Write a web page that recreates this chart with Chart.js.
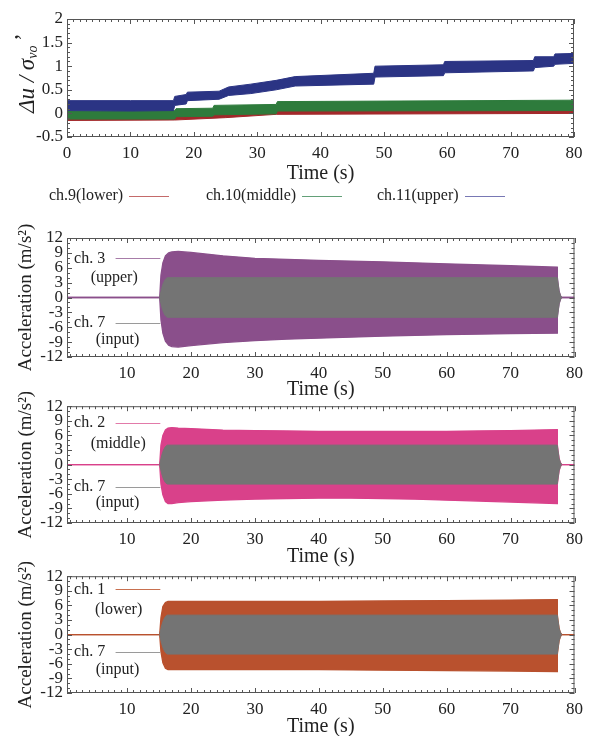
<!DOCTYPE html>
<html>
<head>
<meta charset="utf-8">
<script src="https://cdn.jsdelivr.net/npm/chart.js@4.4.1/dist/chart.umd.min.js"></script>
<style>
  body { margin: 0; background: #fff; width: 589px; height: 736px; position: relative; overflow: hidden;
         font-family: 'Liberation Serif', serif; color: #222; }
  canvas { position: absolute; left: 0; }
  #legend { position: absolute; top: 185px; left: 0; width: 589px; height: 22px; font-size: 16px; }
  .item { position: absolute; top: 1px; white-space: nowrap; }
  .item i { display: inline-block; width: 40px; height: 1px; vertical-align: middle; margin-left: 6px; }
</style>
</head>
<body>
<canvas id="c0" width="589" height="186" style="top:0"></canvas>
<div id="legend"></div>
<canvas id="c1" width="589" height="194" style="top:208px"></canvas>
<canvas id="c2" width="589" height="177" style="top:392px"></canvas>
<canvas id="c3" width="589" height="177" style="top:562px"></canvas>
<script>
const blueT  = [0, 10, 16.8, 17, 18.8, 19, 24, 25.5, 29, 33, 36, 48.4, 48.6, 59.4, 59.6, 73.6, 73.8, 76.8, 77, 80];
const blueLo = [0.06, 0.05, 0.06, 0.17, 0.2, 0.27, 0.3, 0.38, 0.42, 0.5, 0.58, 0.62, 0.77, 0.8, 0.86, 0.9, 0.97, 1.0, 1.04, 1.06];
const blueHi = [0.27, 0.27, 0.27, 0.36, 0.4, 0.45, 0.47, 0.56, 0.62, 0.7, 0.78, 0.85, 1.0, 1.03, 1.1, 1.12, 1.2, 1.2, 1.26, 1.27];

const greenT  = [0, 17, 17.2, 23, 23.2, 33, 33.2, 80];
const greenLo = [-0.12, -0.12, -0.07, -0.06, -0.03, -0.01, 0.05, 0.06];
const greenHi = [0.05, 0.06, 0.1, 0.11, 0.17, 0.19, 0.25, 0.28];

const redT  = [0, 17, 25, 33, 80];
const redLo = [-0.15, -0.14, -0.09, -0.02, 0.0];
const redHi = [0.0, 0.02, 0.04, 0.06, 0.08];

const legendNames = ['ch.9(lower)', 'ch.10(middle)', 'ch.11(upper)'];

// ---- acceleration envelopes ----
const ch7T  = [15.1, 15.4, 15.7, 16.0, 16.3, 77.3, 77.32, 77.45, 77.6, 77.8, 78.0];
const ch7Hi = [0, 1.8, 3.0, 3.7, 4.0, 4.0, 4.0, 2.6, 1.2, 0.4, 0];
const ch7Lo = [0, -1.8, -3.0, -3.7, -4.0, -4.0, -4.0, -2.6, -1.2, -0.4, 0];

const ch3T  = [0.6, 15.1, 15.3, 15.6, 16.0, 16.5, 17.0, 18.0, 20, 25, 30, 35, 40, 50, 60, 70, 77.3, 77.32, 77.45, 77.6, 77.8, 78.0, 80];
const ch3Hi = [0, 0, 4.5, 7.0, 8.4, 9.0, 9.2, 9.3, 9.1, 8.4, 7.9, 7.7, 7.5, 7.2, 6.8, 6.4, 6.1, 4.0, 2.6, 1.2, 0.4, 0, 0];
const ch3Lo = [0, 0, -4.5, -7.2, -8.8, -9.6, -9.9, -10.0, -9.7, -9.1, -8.7, -8.4, -8.2, -7.8, -7.5, -7.3, -7.2, -4.0, -2.6, -1.2, -0.4, 0, 0];

const ch2T  = [0.6, 15.1, 15.3, 15.6, 16.0, 16.4, 17, 18, 20, 25, 30, 35, 40, 45, 50, 55, 60, 65, 70, 77.3, 77.32, 77.45, 77.6, 77.8, 78.0, 80];
const ch2Hi = [0, 0, 4.0, 6.0, 7.1, 7.5, 7.6, 7.5, 7.4, 7.1, 7.0, 6.9, 6.8, 6.8, 6.8, 6.8, 6.8, 6.9, 7.0, 7.2, 4.0, 2.6, 1.2, 0.4, 0, 0];
const ch2Lo = [0, 0, -4.0, -6.2, -7.6, -8.0, -8.0, -7.8, -7.6, -7.3, -7.1, -7.0, -6.9, -6.9, -7.0, -7.1, -7.3, -7.5, -7.7, -8.0, -4.0, -2.6, -1.2, -0.4, 0, 0];

const ch1T  = [0.6, 15.1, 15.3, 15.6, 16.0, 16.4, 17, 20, 30, 40, 50, 60, 70, 77.3, 77.32, 77.45, 77.6, 77.8, 78.0, 80];
const ch1Hi = [0, 0, 3.5, 5.8, 6.6, 6.8, 6.8, 6.8, 6.8, 6.8, 6.9, 7.0, 7.1, 7.2, 4.0, 2.6, 1.2, 0.4, 0, 0];
const ch1Lo = [0, 0, -3.5, -5.8, -6.9, -7.2, -7.2, -7.2, -7.2, -7.2, -7.3, -7.4, -7.5, -7.6, -4.0, -2.6, -1.2, -0.4, 0, 0];

const ch3Labels = ['ch. 3', '(upper)', 'ch. 7', '(input)'];
const ch2Labels = ['ch. 2', '(middle)', 'ch. 7', '(input)'];
const ch1Labels = ['ch. 1', '(lower)', 'ch. 7', '(input)'];

// ---- ticks ----
const topXTicks = [0, 10, 20, 30, 40, 50, 60, 70, 80];
const topYTicks = [-0.5, 0, 0.5, 1, 1.5, 2];
const accXTicks = [10, 20, 30, 40, 50, 60, 70, 80];
const accYTicks = [-12, -9, -6, -3, 0, 3, 6, 9, 12];

const SERIF = "'Liberation Serif', 'Times New Roman', serif";
Chart.defaults.font.family = SERIF;
Chart.defaults.color = '#222';

const colors = {
  red: '#a3282a', green: '#2e7b3c', blue: '#2b3484',
  redLeg: '#c46a6a', greenLeg: '#63a078', blueLeg: '#7878b4',
  gray: '#747474', purple: '#8a4f8b', pink: '#d9418a', orange: '#b9512e',
  purpleLine: '#a77ca8', pinkLine: '#e27aa9', orangeLine: '#c8704f', grayLine: '#9a9a9a'
};

const f = size => ({ family: SERIF, size });

function band(t, lo, hi, color, bw) {
  return [
    { data: t.map((x, i) => ({ x, y: hi[i] })), borderColor: color, backgroundColor: color,
      fill: '+1', borderWidth: bw, pointRadius: 0, tension: 0 },
    { data: t.map((x, i) => ({ x, y: lo[i] })), borderColor: color, backgroundColor: color,
      fill: false, borderWidth: bw, pointRadius: 0, tension: 0 }
  ];
}

// box frame with inward minor/major ticks on all four sides
const framePlugin = {
  id: 'frame',
  afterDatasetsDraw(chart, args, o) {
    const { ctx, chartArea: a, scales: { x, y } } = chart;
    ctx.save();
    ctx.strokeStyle = '#555';
    ctx.lineWidth = 1;
    ctx.strokeRect(a.left + 0.5, a.top + 0.5, a.right - a.left - 1, a.bottom - a.top - 1);
    ctx.beginPath();
    const isMajor = (v, m) => Math.abs(v / m - Math.round(v / m)) < 1e-6;
    for (let k = Math.ceil(x.min / o.xStep - 1e-9); k * o.xStep <= x.max + 1e-9; k++) {
      const v = k * o.xStep, px = Math.round(x.getPixelForValue(v)) + 0.5;
      const len = isMajor(v, o.xMajor) ? 5 : 3;
      ctx.moveTo(px, a.bottom); ctx.lineTo(px, a.bottom - len);
      ctx.moveTo(px, a.top); ctx.lineTo(px, a.top + len);
    }
    for (let k = Math.ceil(y.min / o.yStep - 1e-9); k * o.yStep <= y.max + 1e-9; k++) {
      const v = k * o.yStep, py = Math.round(y.getPixelForValue(v)) + 0.5;
      const len = isMajor(v, o.yMajor) ? 5 : 3;
      ctx.moveTo(a.left, py); ctx.lineTo(a.left + len, py);
      ctx.moveTo(a.right, py); ctx.lineTo(a.right - len, py);
    }
    ctx.stroke();
    ctx.restore();
  }
};

// "ch. N / (position)" notes with short key lines
const notesPlugin = {
  id: 'notes',
  afterDatasetsDraw(chart, args, o) {
    if (!o.texts) return;
    const { ctx, scales: { x, y } } = chart;
    ctx.save();
    ctx.font = '16px ' + SERIF;
    ctx.fillStyle = '#222';
    ctx.textBaseline = 'middle';
    o.texts.forEach((txt, i) => {
      ctx.fillText(txt, x.getPixelForValue(o.xs[i]), y.getPixelForValue(o.ys[i]));
    });
    [0, 2].forEach((i, j) => {
      const py = Math.round(y.getPixelForValue(o.ys[i])) + 0.5;
      ctx.strokeStyle = o.lineColors[j];
      ctx.lineWidth = 1.2;
      ctx.beginPath();
      ctx.moveTo(x.getPixelForValue(8.2), py);
      ctx.lineTo(x.getPixelForValue(15.2), py);
      ctx.stroke();
    });
    ctx.restore();
  }
};

// rotated italic Δu / σvo' title of the top panel
const ratioTitle = {
  id: 'ratioTitle',
  afterDraw(chart) {
    const { ctx, chartArea: a } = chart;
    ctx.save();
    ctx.translate(28, (a.top + a.bottom) / 2 - 4);
    ctx.rotate(-Math.PI / 2);
    ctx.fillStyle = '#222';
    ctx.textBaseline = 'middle';
    const big = 'italic 23px ' + SERIF, small = 'italic 14px ' + SERIF;
    ctx.font = big; const w1 = ctx.measureText('\u0394u / \u03c3').width;
    ctx.font = small; const w2 = ctx.measureText('vo').width;
    ctx.font = big; const w3 = ctx.measureText('\u2019').width;
    let px = -(w1 + w2 + w3 + 3) / 2;
    ctx.font = big; ctx.fillText('\u0394u / \u03c3', px, 0); px += w1;
    ctx.font = small; ctx.fillText('vo', px, 5); px += w2 + 3;
    ctx.font = big; ctx.fillText('\u2019', px, -4);
    ctx.restore();
  }
};

function xScale(min, ticks, height, titlePad) {
  return {
    type: 'linear', min, max: 80,
    border: { display: false },
    grid: { display: false, drawTicks: false },
    afterBuildTicks: s => { s.ticks = ticks.map(v => ({ value: v })); },
    afterFit: s => { s.height = height; },
    ticks: { autoSkip: false, maxRotation: 0, padding: 6, font: f(17), callback: v => String(v) },
    title: { display: true, text: 'Time (s)', font: f(20), padding: { top: 0, bottom: titlePad } }
  };
}

function yScale(min, max, ticks, title) {
  return {
    min, max,
    border: { display: false },
    grid: { display: false, drawTicks: false },
    afterBuildTicks: s => { s.ticks = ticks.map(v => ({ value: v })); },
    afterFit: s => { s.width = 67; },
    ticks: { autoSkip: false, padding: 4, font: f(17), callback: v => String(v) },
    title: title
      ? { display: true, text: title, font: f(19), padding: { top: 15, bottom: 0 } }
      : { display: false }
  };
}

// top panel
new Chart(document.getElementById('c0'), {
  type: 'line',
  data: { datasets: [
    ...band(blueT, blueLo, blueHi, colors.blue, 1),
    ...band(greenT, greenLo, greenHi, colors.green, 1),
    ...band(redT, redLo, redHi, colors.red, 1)
  ] },
  options: {
    responsive: false, animation: false,
    layout: { padding: { top: 19, right: 15, left: 0, bottom: 0 } },
    plugins: { legend: { display: false }, tooltip: { enabled: false },
               frame: { xStep: 1, xMajor: 10, yStep: 0.1, yMajor: 0.5 } },
    scales: { x: xScale(0, topXTicks, 49, 0), y: yScale(-0.5, 2, topYTicks, null) }
  },
  plugins: [framePlugin, ratioTitle]
});

// legend row
const legendEl = document.getElementById('legend');
const legLeft = [49, 206, 377];
const legColor = [colors.redLeg, colors.greenLeg, colors.blueLeg];
legendNames.forEach((name, i) => {
  const d = document.createElement('div');
  d.className = 'item';
  d.style.left = legLeft[i] + 'px';
  d.innerHTML = name + '<i style="background:' + legColor[i] + '"></i>';
  legendEl.appendChild(d);
});

function accPanel(id, padTop, xHeight, t, lo, hi, color, lineColor, texts, ys, xs) {
  return new Chart(document.getElementById(id), {
    type: 'line',
    data: { datasets: [
      ...band(ch7T, ch7Lo, ch7Hi, colors.gray, 1),
      ...band(t, lo, hi, color, 1.3)
    ] },
    options: {
      responsive: false, animation: false,
      layout: { padding: { top: padTop, right: 13, left: 0, bottom: 0 } },
      plugins: { legend: { display: false }, tooltip: { enabled: false },
                 frame: { xStep: 1, xMajor: 10, yStep: 1, yMajor: 3 },
                 notes: { texts, ys, xs, lineColors: [lineColor, colors.grayLine] } },
      scales: { x: xScale(0.6, accXTicks, xHeight, 0), y: yScale(-12, 12, accYTicks, 'Acceleration (m/s\u00b2)') }
    },
    plugins: [framePlugin, notesPlugin]
  });
}

accPanel('c1', 30, 45, ch3T, ch3Lo, ch3Hi, colors.purple, colors.purpleLine,
         ch3Labels, [7.9, 3.9, -5.1, -8.6], [1.7, 4.3, 1.7, 5.1]);
accPanel('c2', 13, 46, ch2T, ch2Lo, ch2Hi, colors.pink, colors.pinkLine,
         ch2Labels, [8.5, 4.3, -4.5, -7.9], [1.7, 4.3, 1.7, 5.1]);
accPanel('c3', 13, 46, ch1T, ch1Lo, ch1Hi, colors.orange, colors.orangeLine,
         ch1Labels, [9.3, 5.0, -3.5, -7.2], [1.7, 5.0, 1.7, 5.1]);
</script>
</body>
</html>
